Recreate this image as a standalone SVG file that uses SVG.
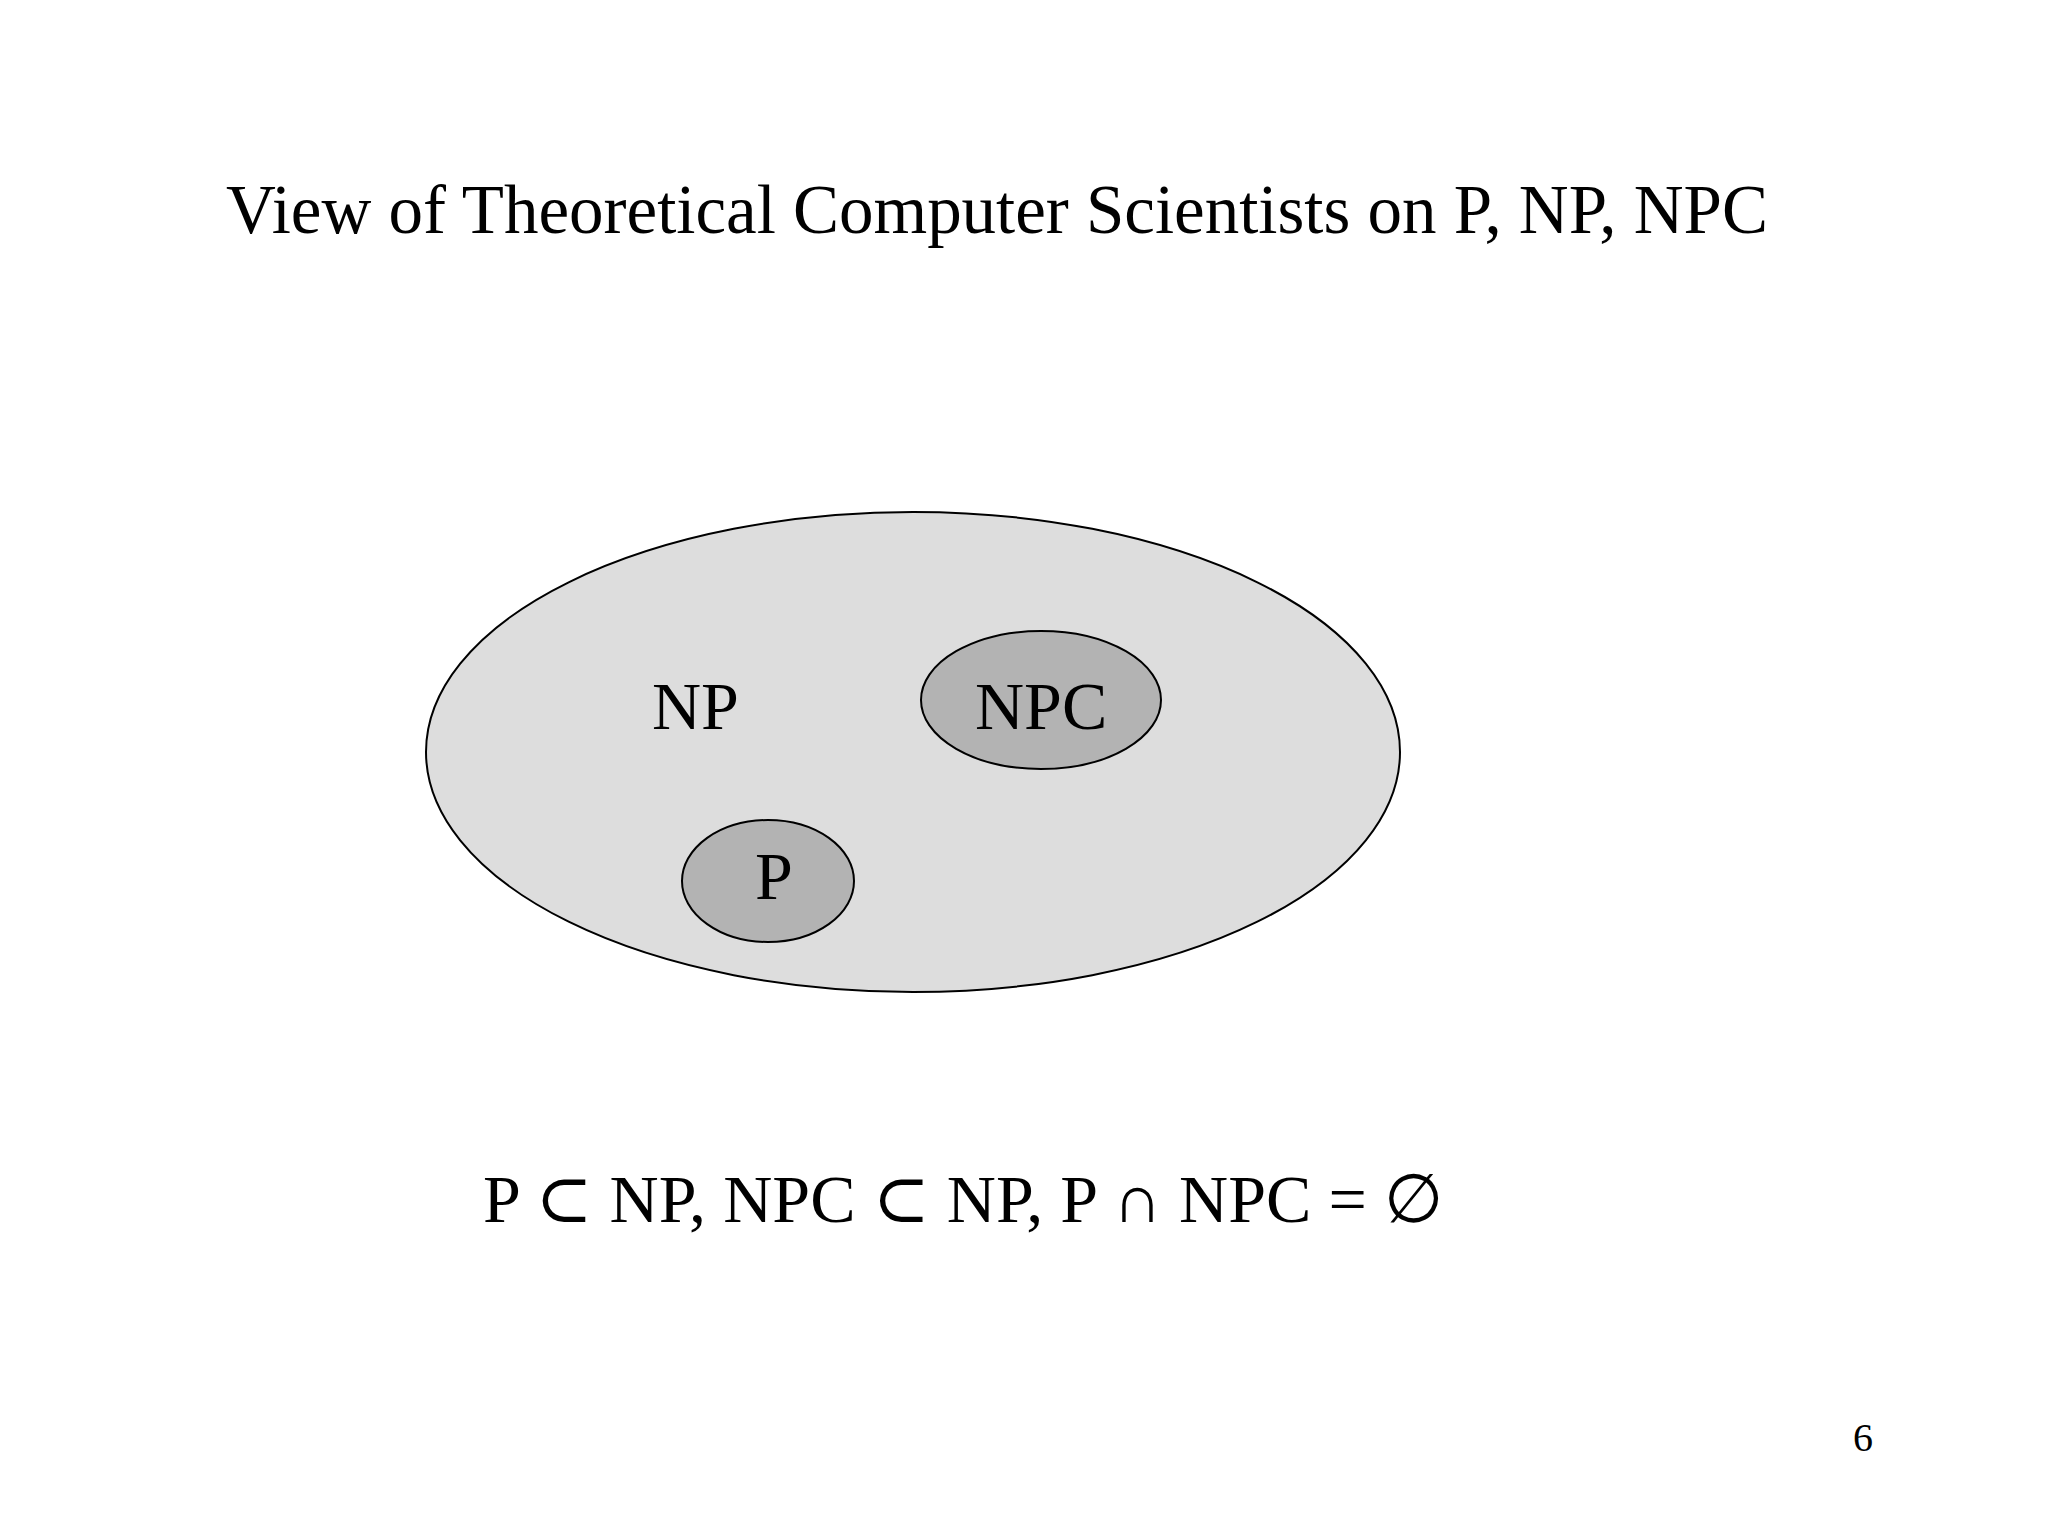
<svg xmlns="http://www.w3.org/2000/svg" width="2048" height="1536" viewBox="0 0 2048 1536">
<style>
text { font-family: "Liberation Serif", "Times New Roman", "DejaVu Serif", serif; fill: #000; }
.t { font-size: 68px; }
.outer { fill: #dddddd; stroke: #000; stroke-width: 2; }
.inner { fill: #b3b3b3; stroke: #000; stroke-width: 2; }
</style>
<rect width="2048" height="1536" fill="#fff"/>
<text id="title" x="226" y="233" font-size="69" textLength="1542" lengthAdjust="spacing">View of Theoretical Computer Scientists on P, NP, NPC</text>
<g id="np">
<ellipse class="outer" cx="913" cy="752" rx="487" ry="240"/>
<text class="t" x="652" y="729">NP</text>
</g>
<g id="npc">
<ellipse class="inner" cx="1041" cy="700" rx="120" ry="69"/>
<text class="t" x="975" y="729">NPC</text>
</g>
<g id="p">
<ellipse class="inner" cx="768" cy="881" rx="86" ry="61"/>
<text class="t" x="755" y="899">P</text>
</g>
<g id="connectors"></g>
<text id="formula" class="t" x="483" y="1222" textLength="960" lengthAdjust="spacing">P ⊂ NP, NPC ⊂ NP, P ∩ NPC = ∅</text>
<text id="page" x="1853" y="1451" font-size="40">6</text>
</svg>
